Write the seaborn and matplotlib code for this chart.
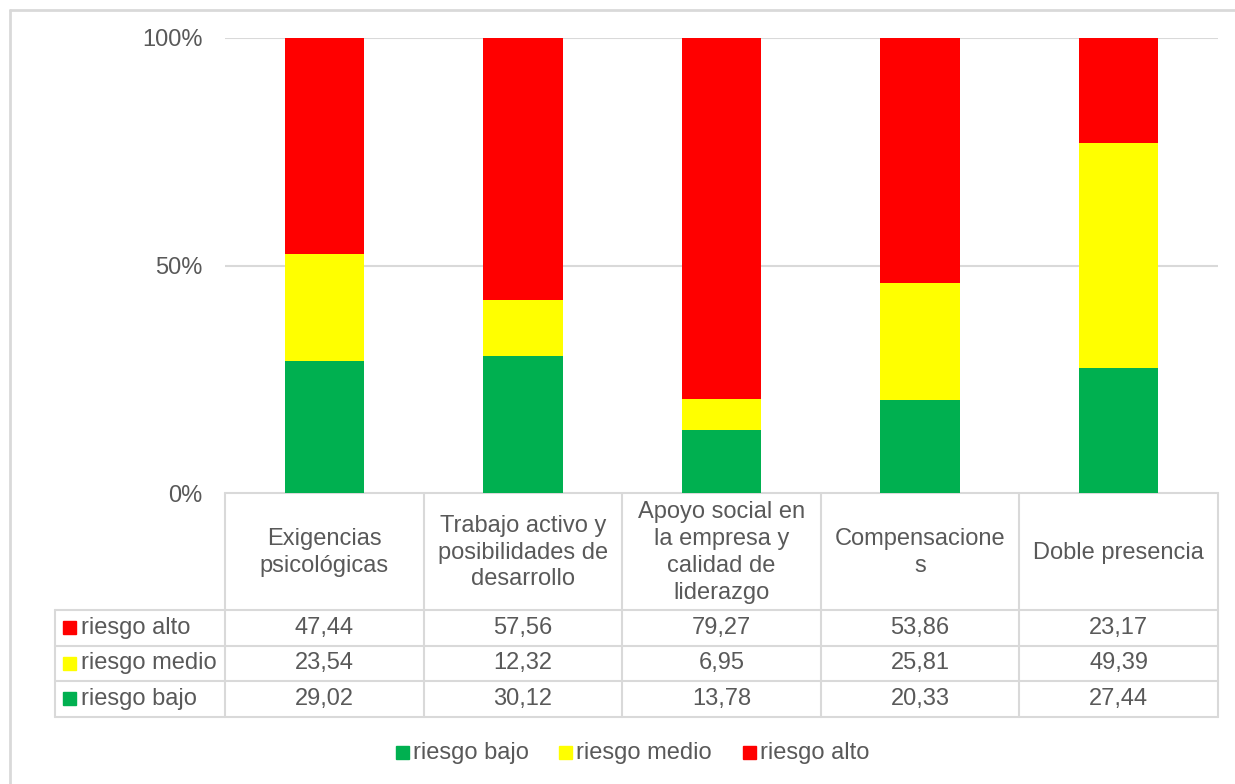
import matplotlib
matplotlib.use("Agg")
import matplotlib.pyplot as plt
import seaborn as sns
import pandas as pd
from matplotlib.patches import Rectangle

categories = ["Exigencias psicológicas", "Trabajo activo y posibilidades de desarrollo",
              "Apoyo social en la empresa y calidad de liderazgo", "Compensaciones", "Doble presencia"]
header_labels = ["Exigencias\npsicológicas", "Trabajo activo y\nposibilidades de\ndesarrollo",
                 "Apoyo social en\nla empresa y\ncalidad de\nliderazgo", "Compensacione\ns", "Doble presencia"]
riesgo_bajo = [29.02, 30.12, 13.78, 20.33, 27.44]
riesgo_medio = [23.54, 12.32, 6.95, 25.81, 49.39]
riesgo_alto = [47.44, 57.56, 79.27, 53.86, 23.17]
series_names = ["riesgo bajo", "riesgo medio", "riesgo alto"]
yticks = [0, 50, 100]
ytick_labels = ["0%", "50%", "100%"]

GREEN, YELLOW, RED = "#00B050", "#FFFF00", "#FF0000"
TXT = "#595959"
GRID = "#D9D9D9"

sns.set_theme(style="white")
plt.rcParams["font.family"] = ["Liberation Sans", "DejaVu Sans"]

W, H = 1235, 784
fig = plt.figure(figsize=(W / 100, H / 100), dpi=100)

# plot area in pixels
L, R, T, B = 225, 1218, 38, 493
ax = fig.add_axes([L / W, 1 - B / H, (R - L) / W, (B - T) / H])

df = pd.DataFrame({"cat": categories, "bajo": riesgo_bajo, "medio": riesgo_medio, "alto": riesgo_alto})
df["top_medio"] = df["bajo"] + df["medio"]
df["top_alto"] = df["top_medio"] + df["alto"]

kw = dict(width=0.4, saturation=1, ax=ax, zorder=3, linewidth=0, edgecolor="none")
sns.barplot(data=df, x="cat", y="top_alto", color=RED, **kw)
sns.barplot(data=df, x="cat", y="top_medio", color=YELLOW, **kw)
sns.barplot(data=df, x="cat", y="bajo", color=GREEN, **kw)

ax.set_xlim(-0.5, len(categories) - 0.5)
ax.set_ylim(0, 100)
ax.set_yticks(yticks)
ax.set_yticklabels(ytick_labels, fontsize=17, color=TXT)
ax.tick_params(axis="y", length=0, pad=16)
ax.set_xticks([])
ax.set_xlabel("")
ax.set_ylabel("")
for s in ax.spines.values():
    s.set_visible(False)
ax.yaxis.grid(True, color=GRID, linewidth=1.5, zorder=0)
ax.set_axisbelow(True)

# overlay axes in pixel coordinates for the data table and legend
ov = fig.add_axes([0, 0, 1, 1], zorder=-1)
ov.set_xlim(0, W)
ov.set_ylim(H, 0)
ov.axis("off")
ov.patch.set_alpha(0)

lw = 1.5
# outer chart border (top and left visible)
ov.plot([10, W], [10, 10], color=GRID, lw=2)
ov.plot([10, 10], [10, H], color=GRID, lw=2)

ncat = len(categories)
colw = (R - L) / ncat
col_edges = [L + i * colw for i in range(ncat + 1)]
rows_y = [493, 610, 646, 681, 717]
LEFT = 55

ov.plot([L, R], [rows_y[0], rows_y[0]], color=GRID, lw=lw)
for y in rows_y[1:]:
    ov.plot([LEFT, R], [y, y], color=GRID, lw=lw)
for x in col_edges:
    ov.plot([x, x], [rows_y[0], rows_y[-1]], color=GRID, lw=lw)
ov.plot([LEFT, LEFT], [rows_y[1], rows_y[-1]], color=GRID, lw=lw)

# header labels
for i, lab in enumerate(header_labels):
    cx = (col_edges[i] + col_edges[i + 1]) / 2
    ov.text(cx, (rows_y[0] + rows_y[1]) / 2 + 1, lab, ha="center", va="center",
            fontsize=17, color=TXT, linespacing=1.28)

# table rows
table_rows = [("riesgo alto", RED, riesgo_alto), ("riesgo medio", YELLOW, riesgo_medio),
              ("riesgo bajo", GREEN, riesgo_bajo)]
for r, (name, col, vals) in enumerate(table_rows):
    cy = (rows_y[r + 1] + rows_y[r + 2]) / 2
    ov.add_patch(Rectangle((63, cy - 7), 13, 13, color=col))
    ov.text(81, cy, name, ha="left", va="center", fontsize=17, color=TXT)
    for i, v in enumerate(vals):
        cx = (col_edges[i] + col_edges[i + 1]) / 2
        ov.text(cx, cy, f"{v:.2f}".replace(".", ","), ha="center", va="center",
                fontsize=17, color=TXT)

# bottom legend
leg_items = [("riesgo bajo", GREEN, 396), ("riesgo medio", YELLOW, 559), ("riesgo alto", RED, 743)]
ly = 753
for name, col, x0 in leg_items:
    ov.add_patch(Rectangle((x0, ly - 7), 13, 13, color=col))
    ov.text(x0 + 17, ly, name, ha="left", va="center", fontsize=17, color=TXT)

fig.savefig("out.png", dpi=100)
